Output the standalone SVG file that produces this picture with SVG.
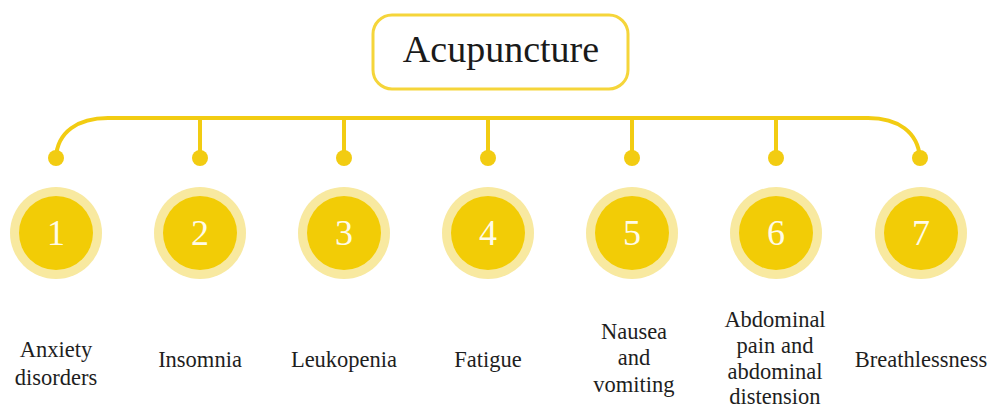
<svg xmlns="http://www.w3.org/2000/svg" width="993" height="410" viewBox="0 0 993 410">
<style>
.lbl{font-family:"Liberation Serif","Times New Roman",serif;font-size:22.5px;fill:#1e1e1e;text-anchor:middle}
.num{font-family:"Liberation Serif","Times New Roman",serif;font-size:36px;fill:#fffbe8;text-anchor:middle}
.outer{fill:#f8e9a0}
.inner{fill:#f2cc06}
.dot{fill:#f2cc12}
.line{fill:none;stroke:#f2cc12;stroke-width:4}
</style>
<rect width="993" height="410" fill="#ffffff"/>
<g id="root">
<rect x="373" y="15" width="255" height="74" rx="19" fill="#ffffff" stroke="#f5d53a" stroke-width="3"/>
<text x="501" y="62" font-family="Liberation Serif,Times New Roman,serif" font-size="38" fill="#1a1a1a" text-anchor="middle">Acupuncture</text>
</g>
<g id="connectors">
<path class="line" d="M56 158 C57 132 78 118 108 118 L868 118 C898 118 918 132 920 158"/>
<path class="line" d="M200 118 V158 M344 118 V158 M488 118 V158 M632 118 V158 M776 118 V158"/>
<circle class="dot" cx="56" cy="158" r="8"/>
<circle class="dot" cx="200" cy="158" r="8"/>
<circle class="dot" cx="344" cy="158" r="8"/>
<circle class="dot" cx="488" cy="158" r="8"/>
<circle class="dot" cx="632" cy="158" r="8"/>
<circle class="dot" cx="776" cy="158" r="8"/>
<circle class="dot" cx="920" cy="158" r="8"/>
</g>
<g id="n1"><circle class="outer" cx="56" cy="233" r="46"/><circle class="inner" cx="56" cy="233" r="37"/><text class="num" x="56" y="245">1</text>
<text class="lbl" x="56" y="357">Anxiety</text><text class="lbl" x="56" y="385">disorders</text></g>
<g id="n2"><circle class="outer" cx="200" cy="233" r="46"/><circle class="inner" cx="200" cy="233" r="37"/><text class="num" x="200" y="245">2</text>
<text class="lbl" x="200" y="367">Insomnia</text></g>
<g id="n3"><circle class="outer" cx="344" cy="233" r="46"/><circle class="inner" cx="344" cy="233" r="37"/><text class="num" x="344" y="245">3</text>
<text class="lbl" x="344" y="367">Leukopenia</text></g>
<g id="n4"><circle class="outer" cx="488" cy="233" r="46"/><circle class="inner" cx="488" cy="233" r="37"/><text class="num" x="488" y="245">4</text>
<text class="lbl" x="488" y="367">Fatigue</text></g>
<g id="n5"><circle class="outer" cx="632" cy="233" r="46"/><circle class="inner" cx="632" cy="233" r="37"/><text class="num" x="632" y="245">5</text>
<text class="lbl" x="634" y="339">Nausea</text><text class="lbl" x="634" y="365">and</text><text class="lbl" x="634" y="392">vomiting</text></g>
<g id="n6"><circle class="outer" cx="776" cy="233" r="46"/><circle class="inner" cx="776" cy="233" r="37"/><text class="num" x="776" y="245">6</text>
<text class="lbl" x="775" y="327">Abdominal</text><text class="lbl" x="775" y="353">pain and</text><text class="lbl" x="775" y="379">abdominal</text><text class="lbl" x="775" y="404">distension</text></g>
<g id="n7"><circle class="outer" cx="921" cy="233" r="46"/><circle class="inner" cx="921" cy="233" r="37"/><text class="num" x="921" y="245">7</text>
<text class="lbl" x="921" y="367">Breathlessness</text></g>
</svg>
